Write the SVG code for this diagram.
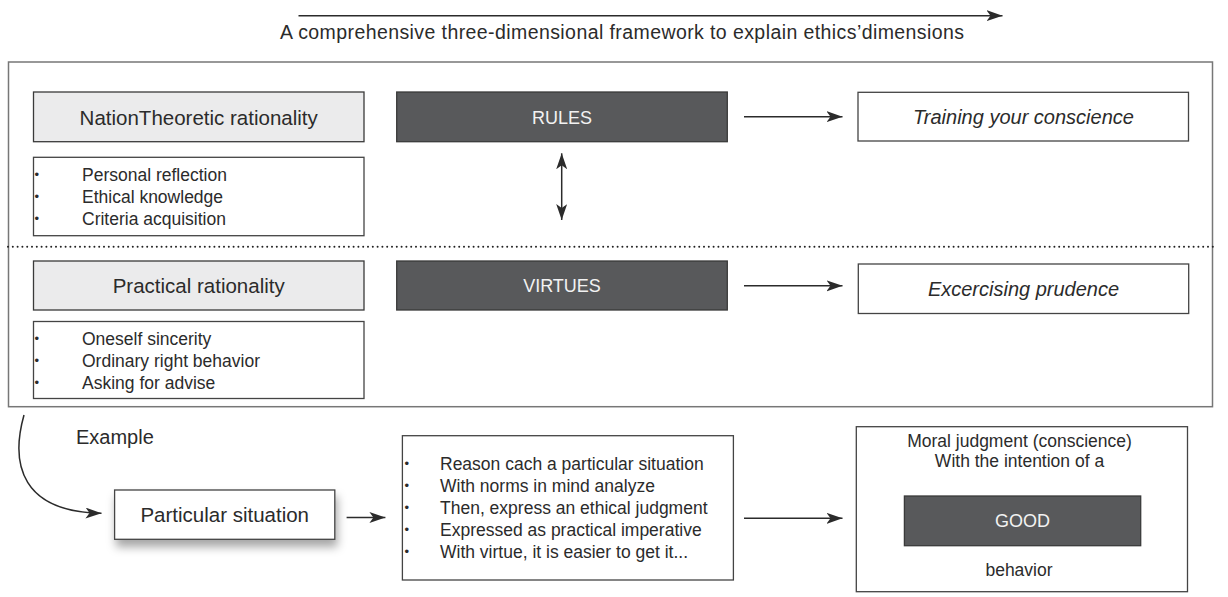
<svg xmlns="http://www.w3.org/2000/svg" width="1228" height="597" viewBox="0 0 1228 597">
<style>
text{font-family:"Liberation Sans",Arial,sans-serif;fill:#2b2b2b}
.t{font-size:20.5px;text-anchor:middle}
.w{font-size:18px;text-anchor:middle;fill:#f2f2f2}
.i{font-size:20px;font-style:italic;text-anchor:middle}
.b{font-size:17.5px}
.d{font-size:13px}
.c{font-size:17.5px;text-anchor:middle}
.light{fill:#ebebec;stroke:#3a3a3a;stroke-width:1.3}
.dark{fill:#58595b;stroke:#3a3a3a;stroke-width:1.3}
.plain{fill:#fff;stroke:#444;stroke-width:1.3}
.arr{stroke:#2b2b2b;stroke-width:1.5;fill:none}
</style>
<defs>
<marker id="ah" markerUnits="userSpaceOnUse" markerWidth="17" markerHeight="12" refX="16" refY="5.5" orient="auto-start-reverse">
<path d="M0,0 L16,5.5 L0,11 L4,5.5 Z" fill="#2b2b2b"/>
</marker>
<filter id="sh" x="-20%" y="-30%" width="140%" height="190%">
<feDropShadow dx="2" dy="7" stdDeviation="5" flood-color="#000" flood-opacity="0.35"/>
</filter>
</defs>

<g id="title">
<text x="280" y="39" style="font-size:19.5px" textLength="684" lengthAdjust="spacing">A comprehensive three-dimensional framework to explain ethics’dimensions</text>
</g>

<g id="frame">
<rect x="8.5" y="62" width="1204" height="344.7" fill="none" stroke="#777" stroke-width="1.5"/>
<line x1="8" y1="246.7" x2="1216" y2="246.7" stroke="#222" stroke-width="2" stroke-dasharray="0 4.8" stroke-linecap="round"/>
</g>

<g id="theoretic">
<rect class="light" x="33.5" y="92" width="330.5" height="49.7"/>
<text class="t" x="198.7" y="124.5">NationTheoretic rationality</text>
</g>
<g id="theoretic-list">
<rect class="plain" x="33.5" y="157.3" width="330.5" height="78.4"/>
<text class="d" x="34.5" y="179">•</text>
<text class="d" x="34.5" y="201">•</text>
<text class="d" x="34.5" y="223">•</text>
<text class="b" x="82" y="181">Personal reflection</text>
<text class="b" x="82" y="203">Ethical knowledge</text>
<text class="b" x="82" y="225">Criteria acquisition</text>
</g>

<g id="rules">
<rect class="dark" x="396.7" y="92" width="330.6" height="49.7"/>
<text class="w" x="562" y="123.5">RULES</text>
</g>
<g id="training">
<rect class="plain" x="858" y="92.3" width="330.5" height="48.7"/>
<text class="i" x="1023.5" y="124">Training your conscience</text>
</g>

<g id="practical">
<rect class="light" x="33.5" y="261" width="330.5" height="49"/>
<text class="t" x="198.7" y="293">Practical rationality</text>
</g>
<g id="practical-list">
<rect class="plain" x="33.5" y="321.5" width="330.5" height="77"/>
<text class="d" x="34.5" y="343">•</text>
<text class="d" x="34.5" y="365">•</text>
<text class="d" x="34.5" y="387">•</text>
<text class="b" x="82" y="345">Oneself sincerity</text>
<text class="b" x="82" y="367">Ordinary right behavior</text>
<text class="b" x="82" y="389">Asking for advise</text>
</g>

<g id="virtues">
<rect class="dark" x="396.7" y="261" width="330.6" height="49"/>
<text class="w" x="562" y="292">VIRTUES</text>
</g>
<g id="prudence">
<rect class="plain" x="858.3" y="264" width="330.4" height="49.5"/>
<text class="i" x="1023.5" y="296">Excercising prudence</text>
</g>

<g id="example">
<text x="76" y="444" style="font-size:20px">Example</text>
</g>

<g id="situation">
<rect class="plain" x="114.6" y="490" width="220.2" height="49.3" filter="url(#sh)"/>
<text class="t" x="224.7" y="522">Particular situation</text>
</g>

<g id="reasoning">
<rect class="plain" x="402.4" y="435.7" width="331" height="144.3"/>
<text class="d" x="404.5" y="468">•</text>
<text class="d" x="404.5" y="490">•</text>
<text class="d" x="404.5" y="512">•</text>
<text class="d" x="404.5" y="534">•</text>
<text class="d" x="404.5" y="556">•</text>
<text class="b" x="440" y="470">Reason cach a particular situation</text>
<text class="b" x="440" y="492">With norms in mind analyze</text>
<text class="b" x="440" y="514">Then, express an ethical judgment</text>
<text class="b" x="440" y="536">Expressed as practical imperative</text>
<text class="b" x="440" y="558">With virtue, it is easier to get it...</text>
</g>

<g id="judgment">
<rect class="plain" x="856.3" y="426.7" width="331.2" height="165"/>
<text class="c" x="1019.5" y="447">Moral judgment (conscience)</text>
<text class="c" x="1019.5" y="467">With the intention of a</text>
<rect class="dark" x="904.4" y="496" width="236.3" height="49.7"/>
<text class="w" x="1022.5" y="527">GOOD</text>
<text class="c" x="1019" y="576">behavior</text>
</g>

<g id="connectors">
<line class="arr" x1="298.5" y1="15.7" x2="1002.5" y2="15.7" marker-end="url(#ah)"/>
<line class="arr" x1="744" y1="116.7" x2="842.5" y2="116.7" marker-end="url(#ah)"/>
<line class="arr" x1="744" y1="285.8" x2="842.5" y2="285.8" marker-end="url(#ah)"/>
<line class="arr" x1="561.7" y1="153.3" x2="561.7" y2="220" marker-start="url(#ah)" marker-end="url(#ah)"/>
<path class="arr" d="M24,415 C10,465 22,512 101.5,513.3" marker-end="url(#ah)"/>
<line class="arr" x1="346.6" y1="517.5" x2="385.4" y2="517.5" marker-end="url(#ah)"/>
<line class="arr" x1="744" y1="518.3" x2="842.5" y2="518.3" marker-end="url(#ah)"/>
</g>
</svg>
